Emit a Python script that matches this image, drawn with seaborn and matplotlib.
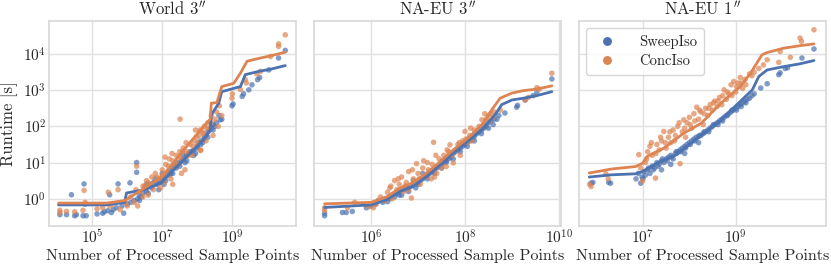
import numpy as np
import pandas as pd
import matplotlib
matplotlib.use("Agg")
import matplotlib.pyplot as plt
from matplotlib.ticker import FixedLocator, LogFormatterSciNotation, NullLocator
import seaborn as sns

# ---------------- data (log10 of values) ----------------
titles = ["World 3$''$", "NA-EU 3$''$", "NA-EU 1$''$"]
methods = ["SweepIso", "ConcIso"]

# Panel 1: World 3"
world_sweep_lx = [4.08, 4.27, 4.5, 4.55, 4.74, 4.83, 4.41, 4.77, 4.8, 5.14, 5.3, 5.35, 5.45, 5.5, 5.55, 5.6, 5.74, 5.7, 5.85, 5.9,
                  6.0, 6.08, 6.1, 6.2, 6.27, 6.27, 6.3, 6.35, 6.45, 6.5, 6.55, 6.6, 6.7, 6.75, 6.85, 6.9, 7.0, 7.05, 7.1, 7.15,
                  7.2, 7.3, 7.35, 7.45, 7.5, 7.55, 7.6, 7.7, 7.75, 7.85, 7.9, 8.0, 8.05, 8.1, 8.2, 8.25, 8.3, 8.35, 8.4, 8.45,
                  8.66, 8.62, 8.7, 8.99, 9.02, 9.28, 9.32, 9.47, 9.56, 9.72, 9.78, 10.04, 10.32, 10.51,
                  6.4, 6.65, 6.95, 7.25, 7.4, 7.65, 7.95, 8.15,
                  6.55, 6.8, 7.0, 7.1, 7.2, 7.3, 7.4, 7.5, 7.6, 7.7, 7.8, 7.9, 8.0, 8.1, 8.2, 8.3, 8.45, 8.5, 8.55, 7.05,
                  6.9, 6.6, 6.35]
world_sweep_ly = [-0.44, -0.44, -0.47, -0.44, -0.47, -0.47, 0.11, 0.41, -0.15, -0.42, -0.4, -0.36, -0.33, 0.11, -0.38, -0.3, 0.41, -0.25, -0.2, -0.4,
                  -0.15, 0.44, -0.1, -0.05, 1.0, 0.73, 0.0, 0.1, 0.15, 0.3, 0.2, 0.35, 0.3, 0.45, 0.4, 0.5, 0.55, 0.6, 0.65, 0.72,
                  0.78, 0.85, 0.9, 0.95, 1.0, 1.05, 1.1, 1.2, 1.25, 1.3, 1.35, 1.45, 1.55, 1.6, 1.7, 1.75, 1.85, 1.9, 1.95, 2.05,
                  2.18, 2.3, 2.2, 2.57, 2.62, 2.83, 2.9, 3.01, 3.15, 3.29, 3.35, 3.56, 3.89, 4.1,
                  0.05, 0.4, 0.45, 0.7, 0.85, 1.0, 1.25, 1.55,
                  0.4, 0.55, 0.7, 0.5, 0.65, 0.7, 1.0, 0.9, 1.2, 1.05, 1.3, 1.2, 1.4, 1.5, 1.65, 1.7, 1.9, 2.0, 2.1, 0.4,
                  0.25, 0.15, -0.05]
world_conc_lx = [4.08, 4.08, 4.27, 4.5, 4.74, 4.77, 4.8, 5.14, 5.3, 5.46, 5.5, 5.6, 5.74, 5.8, 5.95, 6.0, 6.1, 6.2, 6.27, 6.3,
                 6.4, 6.45, 6.5, 6.55, 6.6, 6.7, 6.75, 6.8, 6.9, 6.95, 7.0, 7.05, 7.1, 7.15, 7.2, 7.25, 7.3, 7.35, 7.4, 7.45,
                 7.5, 7.51, 7.55, 7.6, 7.65, 7.7, 7.8, 7.85, 7.9, 7.95, 8.0, 8.05, 8.09, 8.1, 8.15, 8.2, 8.25, 8.3, 8.35, 8.4,
                 8.45, 8.55, 8.63, 8.7, 8.99, 9.0, 9.23, 9.37, 9.4, 9.8, 9.7, 10.09, 10.32, 10.32, 10.51,
                 6.6, 6.85, 7.0, 7.08, 7.18, 7.28, 7.38, 7.48, 7.58, 7.68, 7.75, 7.88, 7.98, 8.08, 8.18, 8.28, 8.38, 8.5, 8.6, 7.3,
                 7.55, 6.45, 6.25]
world_conc_ly = [-0.32, -0.38, -0.35, -0.36, -0.32, 0.23, -0.1, -0.28, -0.25, 0.18, -0.2, -0.15, 0.25, -0.3, -0.1, -0.2, 0.05, -0.1, 0.9, -0.2,
                 0.2, 0.05, 0.35, 0.5, 0.1, 0.6, 0.25, 0.7, 0.55, 0.3, 0.8, 0.45, 0.95, 0.7, 1.1, 0.55, 1.05, 0.85, 1.2, 0.95,
                 1.3, 2.2, 1.1, 1.4, 0.8, 1.3, 1.5, 1.2, 1.6, 1.9, 1.55, 1.75, 1.33, 1.35, 1.85, 2.0, 1.6, 2.1, 1.95, 2.3,
                 1.75, 2.4, 2.57, 2.3, 2.78, 2.9, 3.02, 3.29, 3.2, 3.52, 3.45, 3.93, 4.21, 4.28, 4.53,
                 0.45, 0.6, 0.65, 1.15, 0.9, 1.25, 1.0, 1.15, 1.3, 1.55, 1.2, 1.45, 1.7, 1.9, 1.8, 1.95, 2.1, 2.2, 2.0, 0.4,
                 0.7, 0.35, 0.25]

world_sweep_line_lx = [4.04, 5.41, 5.93, 5.98, 6.5, 6.98, 7.23, 7.8, 8.18, 8.37, 8.4, 8.61, 8.7, 9.23, 9.37, 9.75, 10.09, 10.51]
world_sweep_line_ly = [-0.17, -0.17, -0.1, 0.16, 0.25, 0.44, 0.71, 1.26, 1.63, 1.9, 2.32, 2.64, 2.96, 3.1, 3.43, 3.52, 3.58, 3.68]
world_conc_line_lx = [4.04, 5.41, 5.93, 6.5, 6.98, 7.23, 7.7, 8.18, 8.37, 8.4, 8.56, 8.7, 9.04, 9.23, 9.42, 9.8, 10.09, 10.51]
world_conc_line_ly = [-0.12, -0.12, -0.05, 0.3, 0.6, 0.89, 1.45, 2.0, 2.2, 2.64, 2.66, 3.1, 3.19, 3.47, 3.8, 3.89, 3.95, 4.05]

# Panel 2: NA-EU 3"
naeu3_sweep_lx = [5.01, 5.01, 5.39, 5.47, 5.6, 5.9, 6.0, 6.1, 6.15, 6.25, 6.3, 6.35, 6.45, 6.5, 6.55, 6.6, 6.65, 6.7, 6.75, 6.8,
                  6.85, 6.9, 6.95, 7.0, 7.05, 7.1, 7.15, 7.2, 7.25, 7.3, 7.35, 7.4, 7.45, 7.5, 7.55, 7.6, 7.65, 7.7, 7.75, 7.8,
                  7.85, 7.9, 7.95, 8.0, 8.05, 8.1, 8.15, 8.2, 8.25, 8.3, 8.35, 8.4, 8.45, 8.5, 8.55, 8.6, 8.68, 8.72, 8.85, 9.1,
                  9.12, 9.28, 9.45, 9.53, 9.85,
                  6.4, 6.6, 6.8, 7.0, 7.2, 7.35, 7.5, 7.6, 7.75, 7.9, 8.05, 8.2, 8.35, 8.5, 8.62, 8.4, 7.1, 6.9]
naeu3_sweep_ly = [-0.47, -0.4, -0.38, -0.38, -0.35, -0.25, -0.2, -0.15, -0.05, -0.1, 0.0, -0.08, 0.1, 0.05, 0.15, 0.22, 0.1, 0.25, 0.3, 0.2,
                  0.35, 0.4, 0.3, 0.45, 0.5, 0.55, 0.6, 0.65, 0.7, 0.75, 0.8, 0.85, 0.9, 0.95, 1.0, 1.05, 1.1, 1.15, 1.25, 1.3,
                  1.35, 1.4, 1.45, 1.5, 1.55, 1.6, 1.65, 1.72, 1.8, 1.85, 1.9, 1.95, 2.0, 2.1, 2.15, 2.05, 2.2, 2.3, 2.37, 2.53,
                  2.58, 2.73, 2.85, 2.93, 3.31,
                  0.0, 0.1, 0.3, 0.4, 0.55, 0.7, 0.85, 1.0, 1.1, 1.3, 1.45, 1.6, 1.8, 1.95, 2.2, 2.05, 0.7, 0.5]
naeu3_conc_lx = [5.01, 5.01, 5.5, 5.65, 5.95, 6.05, 6.1, 6.2, 6.3, 6.35, 6.4, 6.45, 6.5, 6.55, 6.6, 6.65, 6.7, 6.75, 6.8, 6.86,
                 6.9, 6.97, 7.0, 7.05, 7.1, 7.15, 7.2, 7.25, 7.3, 7.33, 7.35, 7.4, 7.45, 7.5, 7.55, 7.6, 7.65, 7.68, 7.75, 7.8,
                 7.85, 7.9, 7.95, 8.0, 8.05, 8.1, 8.15, 8.2, 8.25, 8.3, 8.36, 8.4, 8.45, 8.5, 8.55, 8.6, 8.75, 9.28, 9.35, 9.53,
                 9.58, 9.85,
                 6.42, 6.58, 6.72, 6.88, 7.02, 7.12, 7.22, 7.38, 7.52, 7.62, 7.72, 7.88, 8.02, 8.12, 8.28, 8.42, 8.52, 8.62, 7.28, 6.8]
naeu3_conc_ly = [-0.32, -0.25, -0.25, -0.1, -0.22, -0.25, -0.15, 0.05, -0.05, 0.18, 0.3, 0.0, 0.5, 0.25, 0.4, 0.6, 0.2, 0.45, 0.75, 0.02,
                 0.55, 0.97, 0.7, 0.4, 0.85, 0.6, 1.0, 0.75, 0.95, 1.56, 0.6, 0.7, 1.1, 0.85, 1.2, 0.89, 1.3, 1.49, 0.99, 1.35,
                 1.5, 1.2, 1.6, 1.86, 1.55, 1.75, 1.6, 1.9, 1.85, 2.0, 2.18, 2.05, 2.2, 2.3, 2.35, 2.25, 2.45, 2.73, 2.8, 3.07,
                 3.03, 3.47,
                 0.35, 0.55, 0.35, 0.8, 0.55, 1.05, 0.8, 1.2, 1.05, 1.35, 1.2, 1.55, 1.65, 1.95, 1.9, 2.35, 2.15, 2.4, 0.55, 0.25]

naeu3_sweep_line_lx = [5.01, 6.0, 6.33, 6.61, 6.9, 7.18, 7.43, 7.75, 8.1, 8.39, 8.64, 8.78, 9.0, 9.25, 9.53, 9.85]
naeu3_sweep_line_ly = [-0.24, -0.17, -0.03, 0.2, 0.34, 0.62, 0.89, 1.26, 1.63, 1.95, 2.32, 2.6, 2.73, 2.78, 2.85, 2.96]
naeu3_conc_line_lx = [5.01, 6.0, 6.33, 6.61, 6.9, 7.18, 7.43, 7.75, 8.1, 8.39, 8.57, 8.75, 9.0, 9.25, 9.53, 9.85]
naeu3_conc_line_ly = [-0.14, -0.1, 0.05, 0.29, 0.45, 0.71, 0.98, 1.35, 1.72, 2.09, 2.46, 2.78, 2.92, 2.99, 3.03, 3.12]

# Panel 3: NA-EU 1"
naeu1_sweep_lx = [5.88, 5.92, 6.26, 6.3, 6.85, 6.9, 6.95, 6.98, 7.02, 7.05, 7.1, 7.15, 7.2, 7.25, 7.3, 7.35, 7.4, 7.45, 7.5, 7.55,
                  7.6, 7.65, 7.7, 7.75, 7.8, 7.85, 7.9, 7.95, 8.0, 8.05, 8.1, 8.15, 8.2, 8.25, 8.3, 8.35, 8.4, 8.45, 8.5, 8.55,
                  8.6, 8.65, 8.7, 8.75, 8.8, 8.85, 8.9, 8.95, 9.0, 9.05, 9.1, 9.15, 9.2, 9.3, 9.4, 9.54, 9.68, 9.93, 9.96, 10.07,
                  10.12, 10.43, 10.69, 7.6, 7.9, 8.2, 7.0, 7.4,
                  7.12, 7.22, 7.32, 7.42, 7.52, 7.62, 7.72, 7.82, 7.92, 8.02, 8.12, 8.22, 8.32, 8.42, 8.52, 8.62, 8.72, 8.82, 8.92, 9.02,
                  9.12, 9.22, 9.25, 9.35]
naeu1_sweep_ly = [0.43, 0.45, 0.45, 0.43, 0.55, 0.7, 0.43, 0.6, 0.75, 0.65, 0.8, 0.7, 0.9, 0.85, 1.0, 0.95, 1.05, 1.0, 1.1, 1.15,
                  1.2, 1.1, 1.25, 1.3, 1.35, 1.4, 1.45, 1.5, 1.55, 1.6, 1.65, 1.7, 1.72, 1.75, 1.8, 1.85, 1.9, 1.95, 2.0, 2.05,
                  2.1, 2.15, 2.2, 2.25, 2.3, 2.35, 2.4, 2.45, 2.5, 2.55, 2.6, 2.65, 2.7, 2.78, 2.9, 3.06, 3.18, 3.43, 3.48, 3.6,
                  3.62, 3.89, 4.14, 0.95, 1.25, 1.55, 0.55, 0.8,
                  0.85, 0.8, 0.9, 1.1, 1.05, 1.15, 1.3, 1.3, 1.4, 1.5, 1.6, 1.75, 1.85, 1.85, 2.05, 2.05, 2.15, 2.3, 2.45, 2.45,
                  2.55, 2.65, 2.75, 2.85]
naeu1_conc_lx = [5.88, 5.85, 6.2, 6.25, 6.91, 6.95, 6.99, 7.05, 7.1, 7.15, 7.2, 7.27, 7.3, 7.35, 7.4, 7.45, 7.5, 7.55, 7.6, 7.65,
                 7.7, 7.75, 7.8, 7.85, 7.88, 7.92, 7.95, 8.0, 8.05, 8.1, 8.16, 8.2, 8.25, 8.3, 8.35, 8.4, 8.45, 8.5, 8.55, 8.6,
                 8.65, 8.7, 8.75, 8.8, 8.85, 8.9, 8.96, 9.0, 9.05, 9.1, 9.15, 9.2, 9.3, 9.4, 9.68, 9.93, 9.96, 10.18, 10.39, 10.42,
                 10.69,
                 7.08, 7.18, 7.28, 7.38, 7.48, 7.58, 7.68, 7.78, 7.9, 8.02, 8.12, 8.22, 8.32, 8.42, 8.52, 8.62, 8.72, 8.82, 8.92, 9.02,
                 9.12, 9.22, 9.35, 9.5, 9.6]
naeu1_conc_ly = [0.34, 0.4, 0.69, 0.55, 1.22, 0.85, 0.49, 1.0, 1.3, 1.45, 1.2, 0.57, 1.5, 1.35, 1.6, 1.86, 1.4, 1.7, 1.55, 1.9,
                 1.75, 2.0, 0.97, 1.85, 2.18, 1.7, 2.1, 2.25, 1.95, 2.35, 2.53, 2.2, 2.4, 2.05, 2.5, 2.3, 2.6, 2.45, 2.7, 2.55,
                 2.8, 2.6, 3.01, 2.75, 2.9, 3.15, 3.24, 2.95, 3.2, 3.35, 3.05, 3.3, 3.45, 3.5, 3.84, 3.77, 4.07, 3.91, 4.44, 4.35,
                 4.67,
                 1.1, 1.55, 1.25, 1.7, 1.55, 1.85, 1.6, 2.1, 1.95, 2.05, 2.15, 2.45, 2.35, 2.5, 2.65, 2.7, 2.85, 2.95, 2.85, 3.1,
                 3.2, 3.15, 3.4, 3.6, 3.7]

naeu1_sweep_line_lx = [5.84, 6.31, 6.84, 6.99, 7.31, 7.73, 8.25, 8.68, 9.1, 9.36, 9.5, 9.68, 10.03, 10.39, 10.69]
naeu1_sweep_line_ly = [0.6, 0.66, 0.69, 0.75, 0.99, 1.22, 1.74, 2.18, 2.69, 3.01, 3.38, 3.56, 3.65, 3.73, 3.82]
naeu1_conc_line_lx = [5.84, 6.31, 6.84, 6.99, 7.09, 7.45, 7.88, 8.26, 8.68, 9.1, 9.32, 9.57, 9.68, 10.03, 10.39, 10.69]
naeu1_conc_line_ly = [0.71, 0.82, 0.89, 0.98, 1.17, 1.4, 1.81, 2.09, 2.64, 3.1, 3.47, 3.98, 4.04, 4.16, 4.23, 4.28]

x_ticks = [[1e5, 1e7, 1e9], [1e6, 1e8, 1e10], [1e7, 1e9]]
y_ticks = [1e0, 1e1, 1e2, 1e3, 1e4]

# ---------------- build tables ----------------
scatter_sets = [
    (world_sweep_lx, world_sweep_ly, world_conc_lx, world_conc_ly),
    (naeu3_sweep_lx, naeu3_sweep_ly, naeu3_conc_lx, naeu3_conc_ly),
    (naeu1_sweep_lx, naeu1_sweep_ly, naeu1_conc_lx, naeu1_conc_ly),
]
line_sets = [
    (world_sweep_line_lx, world_sweep_line_ly, world_conc_line_lx, world_conc_line_ly),
    (naeu3_sweep_line_lx, naeu3_sweep_line_ly, naeu3_conc_line_lx, naeu3_conc_line_ly),
    (naeu1_sweep_line_lx, naeu1_sweep_line_ly, naeu1_conc_line_lx, naeu1_conc_line_ly),
]

def make_df(sx, sy, cx, cy):
    return pd.DataFrame({
        "x": np.power(10.0, np.array(sx + cx)),
        "y": np.power(10.0, np.array(sy + cy)),
        "method": [methods[0]] * len(sx) + [methods[1]] * len(cx),
    })

# ---------------- style ----------------
sns.set_theme(style="whitegrid")
plt.rcParams["font.family"] = ["cmr10", "DejaVu Serif"]
plt.rcParams["mathtext.fontset"] = "cm"
plt.rcParams["axes.formatter.use_mathtext"] = True
plt.rcParams["axes.unicode_minus"] = False

palette = sns.color_palette("deep")[:2]

fig, axes = plt.subplots(1, 3, figsize=(8.31, 2.67), dpi=100, sharey=True)
fig.subplots_adjust(left=0.059, right=0.994, bottom=0.154, top=0.921, wspace=0.07)

xlims = [(10 ** 3.77, 10 ** 10.83), (10 ** 4.78, 10 ** 10.05), (10 ** 5.61, 10 ** 10.95)]

for i, ax in enumerate(axes):
    sdf = make_df(*scatter_sets[i])
    ldf = make_df(*line_sets[i])
    sns.scatterplot(data=sdf, x="x", y="y", hue="method", hue_order=methods, palette=palette,
                    s=16, alpha=0.7, linewidth=0, ax=ax, legend=(i == 2))
    sns.lineplot(data=ldf, x="x", y="y", hue="method", hue_order=methods, palette=palette,
                 linewidth=2.0, ax=ax, legend=False, estimator=None, sort=True)
    ax.set_xscale("log")
    ax.set_yscale("log")
    ax.set_xlim(*xlims[i])
    ax.set_ylim(10 ** -0.75, 10 ** 4.91)
    ax.xaxis.set_major_locator(FixedLocator(x_ticks[i]))
    ax.xaxis.set_major_formatter(LogFormatterSciNotation())
    ax.xaxis.set_minor_locator(NullLocator())
    ax.yaxis.set_major_locator(FixedLocator(y_ticks))
    ax.yaxis.set_major_formatter(LogFormatterSciNotation())
    ax.yaxis.set_minor_locator(NullLocator())
    ax.set_title(titles[i], fontsize=12, pad=4)
    ax.set_xlabel("Number of Processed Sample Points", fontsize=11.5, labelpad=1)
    ax.set_ylabel("Runtime [s]" if i == 0 else "", fontsize=12)
    ax.tick_params(axis="both", labelsize=11, pad=2, length=0)
    for sp in ax.spines.values():
        sp.set_color("#d9d9d9")
    ax.grid(True, color="#e0e0e0", linewidth=1.0)

handles, labels = axes[2].get_legend_handles_labels()
leg = axes[2].legend(handles, labels, loc="upper left", fontsize=10.5, markerscale=1.6,
                     handletextpad=1.2, borderpad=0.45, labelspacing=0.4, frameon=True,
                     bbox_to_anchor=(0.0, 1.0))
for h in leg.legend_handles:
    h.set_alpha(1.0)

fig.savefig("out.png", dpi=100)
